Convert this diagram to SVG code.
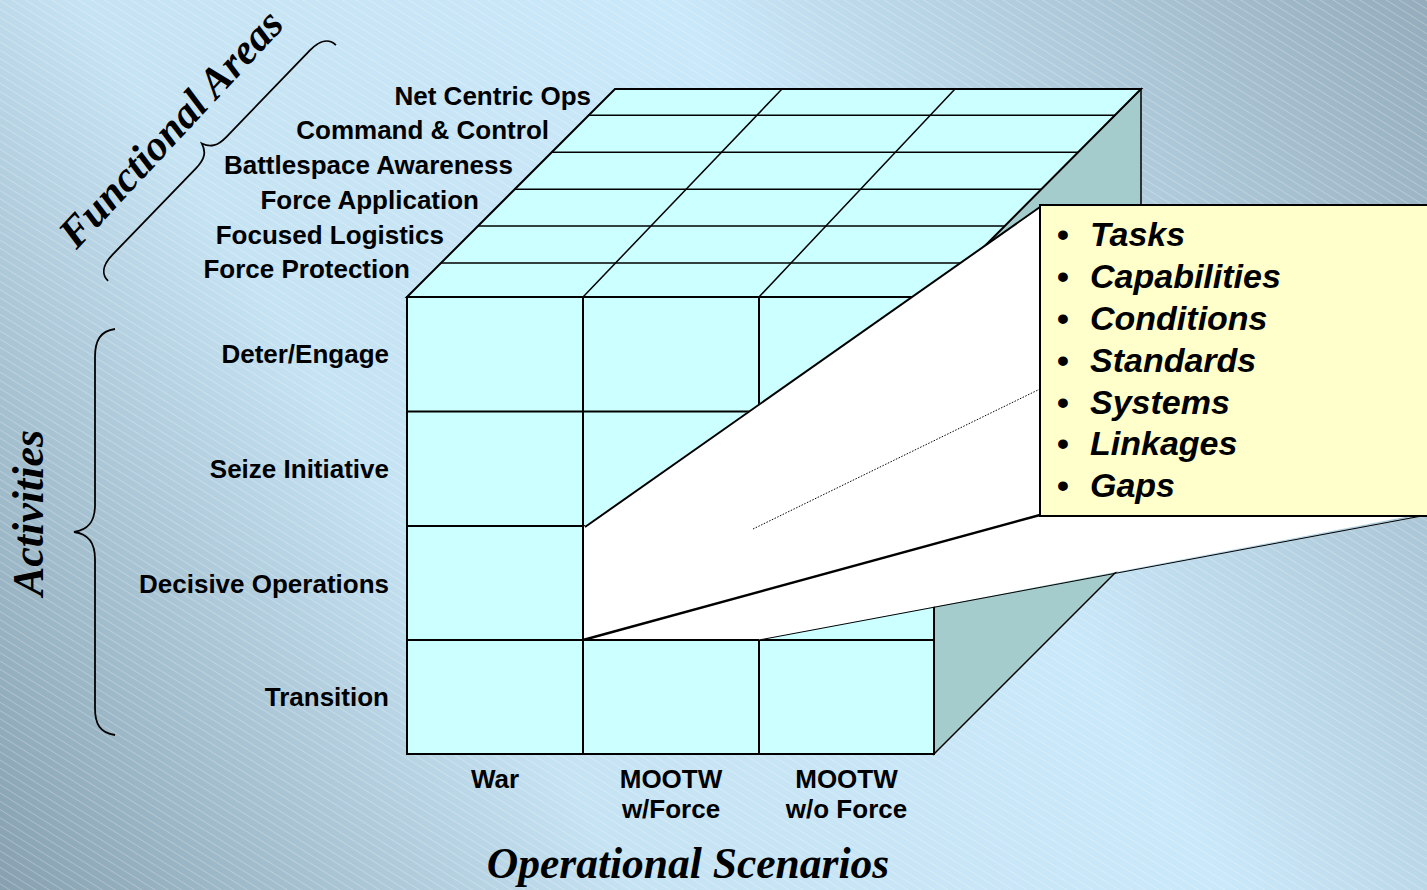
<svg xmlns="http://www.w3.org/2000/svg" width="1427" height="890" viewBox="0 0 1427 890">
<defs>
<linearGradient id="bg" gradientUnits="userSpaceOnUse" x1="0" y1="890" x2="1427" y2="0">
<stop offset="0" stop-color="#86a0af"/>
<stop offset="0.32" stop-color="#c6e3f3"/>
<stop offset="0.62" stop-color="#c9e8f9"/>
<stop offset="1" stop-color="#94acbb"/>
</linearGradient>
<pattern id="hatch" width="10" height="7" patternUnits="userSpaceOnUse" patternTransform="rotate(32)">
<line x1="0" y1="0.5" x2="10" y2="0.5" stroke="#ffffff" stroke-opacity="0.28" stroke-width="0.9"/>
</pattern>
<style>
.ln{stroke:#000;stroke-width:2;fill:none}
.lnt{stroke:#000;stroke-width:1.5;fill:none}
.lbl{font-family:"Liberation Sans",Arial,sans-serif;font-weight:bold;font-size:26px;fill:#000}
.ttl{font-family:"Liberation Serif","Times New Roman",serif;font-weight:bold;font-style:italic;fill:#000}
.bul{font-family:"Liberation Sans",Arial,sans-serif;font-weight:bold;font-style:italic;font-size:34px;fill:#000}
.bdot{font-family:"Liberation Sans",Arial,sans-serif;font-weight:bold;font-size:34px;fill:#000}
.brace{fill:none;stroke:#000;stroke-width:1.8}
</style>
</defs>
<rect x="0" y="0" width="1427" height="890" fill="url(#bg)"/>
<rect x="0" y="0" width="1427" height="890" fill="url(#hatch)"/>

<g id="cube">
<polygon id="right-face" points="934,297 1141,89 1141,547 934,754" fill="#a5cccc" stroke="#000" stroke-width="1.5"/>
<g id="top-face">
<polygon points="407,297 615,89 1141,89 934,297" fill="#ccffff" stroke="#000" stroke-width="2"/>
<line class="lnt" x1="588.7" y1="115.3" x2="1114.8" y2="115.3"/>
<line class="lnt" x1="551.7" y1="152.3" x2="1078" y2="152.3"/>
<line class="lnt" x1="514.7" y1="189.3" x2="1041.2" y2="189.3"/>
<line class="lnt" x1="478" y1="226" x2="1004.7" y2="226"/>
<line class="lnt" x1="441" y1="263" x2="967.8" y2="263"/>
<line class="lnt" x1="583" y1="297" x2="782" y2="89"/>
<line class="lnt" x1="759" y1="297" x2="955" y2="89"/>
</g>
<g id="front-face">
<rect x="407" y="297" width="527" height="457" fill="#ccffff" stroke="#000" stroke-width="2"/>
<line class="ln" x1="583" y1="297" x2="583" y2="754"/>
<line class="ln" x1="759" y1="297" x2="759" y2="754"/>
<line class="ln" x1="407" y1="411.5" x2="934" y2="411.5"/>
<line class="ln" x1="407" y1="526" x2="934" y2="526"/>
<line class="ln" x1="407" y1="640" x2="934" y2="640"/>
</g>
</g>

<g id="callout">
<polygon points="583,527 1040,207 1040,516 1410,516 759,640 583,640" fill="#ffffff"/>
<line x1="585" y1="527" x2="1040" y2="207" stroke="#000" stroke-width="2"/>
<line x1="583" y1="640" x2="1040" y2="515" stroke="#000" stroke-width="2.5"/>
<line x1="759" y1="640" x2="1427" y2="515" stroke="#000" stroke-width="1"/>
<line class="ln" x1="583" y1="526" x2="583" y2="641"/>
<line class="ln" x1="583" y1="640" x2="759" y2="640"/>
<line x1="753" y1="529" x2="1040" y2="389" stroke="#000" stroke-width="1" stroke-dasharray="1.5,1.5"/>
<rect x="1040" y="205" width="400" height="311" fill="#ffffcc" stroke="#000" stroke-width="2"/>
<g id="bullets">
<text class="bdot" x="1057" y="246">•</text><text class="bul" x="1090" y="246">Tasks</text>
<text class="bdot" x="1057" y="288">•</text><text class="bul" x="1090" y="288">Capabilities</text>
<text class="bdot" x="1057" y="330">•</text><text class="bul" x="1090" y="330">Conditions</text>
<text class="bdot" x="1057" y="372">•</text><text class="bul" x="1090" y="372">Standards</text>
<text class="bdot" x="1057" y="414">•</text><text class="bul" x="1090" y="414">Systems</text>
<text class="bdot" x="1057" y="455">•</text><text class="bul" x="1090" y="455">Linkages</text>
<text class="bdot" x="1057" y="497">•</text><text class="bul" x="1090" y="497">Gaps</text>
</g>
</g>

<g id="functional-areas">
<text class="lbl" x="591" y="105" text-anchor="end">Net Centric Ops</text>
<text class="lbl" x="549" y="139" text-anchor="end">Command &amp; Control</text>
<text class="lbl" x="513" y="174" text-anchor="end">Battlespace Awareness</text>
<text class="lbl" x="479" y="208.5" text-anchor="end">Force Application</text>
<text class="lbl" x="444" y="243.5" text-anchor="end">Focused Logistics</text>
<text class="lbl" x="410" y="278" text-anchor="end">Force Protection</text>
<text class="ttl" font-size="42.5" text-anchor="middle" transform="translate(181,138) rotate(-47)">Functional Areas</text>
</g>

<g id="activities">
<text class="lbl" x="389" y="363" text-anchor="end">Deter/Engage</text>
<text class="lbl" x="389" y="478" text-anchor="end">Seize Initiative</text>
<text class="lbl" x="389" y="592.5" text-anchor="end">Decisive Operations</text>
<text class="lbl" x="389" y="706" text-anchor="end">Transition</text>
<text class="ttl" font-size="44" text-anchor="middle" transform="translate(43,513) rotate(-90)">Activities</text>
</g>

<g id="scenarios">
<text class="lbl" x="495" y="788" text-anchor="middle">War</text>
<text class="lbl" x="671" y="788" text-anchor="middle">MOOTW</text>
<text class="lbl" x="671" y="818" text-anchor="middle">w/Force</text>
<text class="lbl" x="846.5" y="788" text-anchor="middle">MOOTW</text>
<text class="lbl" x="846.5" y="818" text-anchor="middle">w/o Force</text>
<text class="ttl" font-size="43.5" x="688" y="878" text-anchor="middle">Operational Scenarios</text>
</g>

<g id="connectors">
<path class="brace" d="M115,329 C100,331 95,341 95,357 L95,505 C95,522 88,530 74,532 C88,534 95,542 95,559 L95,708 C95,724 100,733 115,735"/>
<path class="brace" transform="translate(222,163) rotate(-46)" d="M-164,0 C-164,-9 -157,-15 -142,-15 L-22,-15 C-9,-15 -3,-19 0,-28 C3,-19 9,-15 22,-15 L142,-15 C157,-15 164,-9 164,0"/>
</g>
</svg>
